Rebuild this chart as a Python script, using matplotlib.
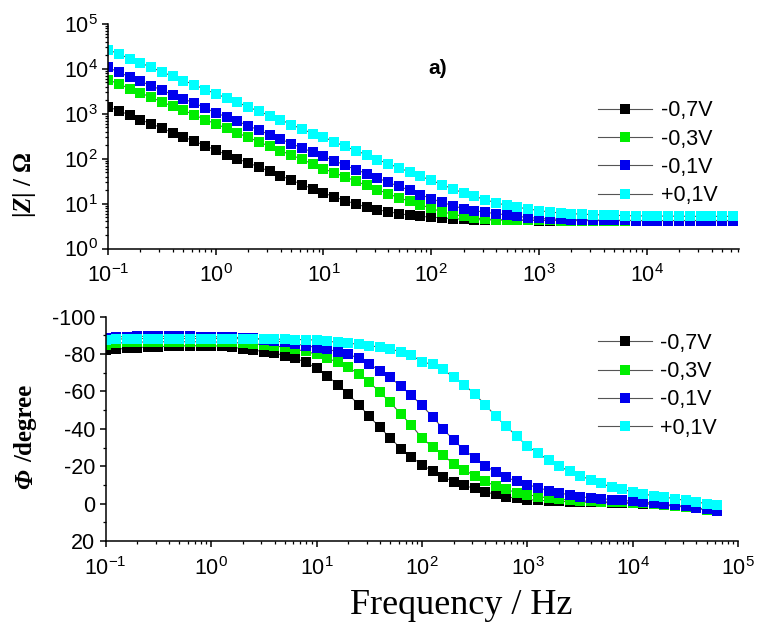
import matplotlib
matplotlib.use('Agg')
import matplotlib.pyplot as plt
from matplotlib.ticker import LogLocator, LogFormatterMathtext, MultipleLocator, NullFormatter

plt.rcParams['font.family'] = 'Liberation Sans'
plt.rcParams['mathtext.fontset'] = 'custom'
plt.rcParams['mathtext.rm'] = 'Liberation Sans'
plt.rcParams['mathtext.it'] = 'Liberation Serif:italic:bold'
plt.rcParams['axes.unicode_minus'] = False

# frequencies, 10 points per decade
freq = [0.1, 0.1259, 0.1585, 0.1995, 0.2512, 0.3162, 0.3981, 0.5012, 0.631, 0.7943,
        1.0, 1.259, 1.585, 1.995, 2.512, 3.162, 3.981, 5.012, 6.31, 7.943,
        10, 12.59, 15.85, 19.95, 25.12, 31.62, 39.81, 50.12, 63.1, 79.43,
        100, 125.9, 158.5, 199.5, 251.2, 316.2, 398.1, 501.2, 631, 794.3,
        1000, 1259, 1585, 1995, 2512, 3162, 3981, 5012, 6310, 7943,
        10000, 12590, 15850, 19950, 25120, 31620, 39810, 50120, 63100]

labels = ['-0,7V', '-0,3V', '-0,1V', '+0,1V']
colors = ['#000000', '#00ee00', '#0000ee', '#00ffff']

# |Z| / Ohm
z_m07 = [1420, 1180, 930, 745, 595, 485, 378, 305, 245, 196,
         155, 123, 100, 81, 65.5, 52, 42, 33.5, 26.5, 21.5,
         17.3, 14.1, 11.7, 9.8, 8.4, 7.35, 6.6, 6.0, 5.5, 5.2,
         5.0, 4.8, 4.6, 4.5, 4.4, 4.35, 4.3, 4.3, 4.25, 4.25,
         4.2, 4.2, 4.2, 4.2, 4.2, 4.2, 4.2, 4.2, 4.2, 4.2,
         4.2, 4.2, 4.2, 4.2, 4.2, 4.2, 4.2, 4.2, 4.2]
z_m03 = [5780, 4620, 3640, 2920, 2330, 1840, 1470, 1200, 945, 745,
         595, 476, 375, 300, 236, 189, 151, 121, 96, 76.5,
         60.2, 48.2, 40, 31.4, 25.6, 20.5, 16.7, 13.4, 11.3, 9.5,
         7.8, 6.6, 5.8, 5.2, 4.8, 4.55, 4.4, 4.35, 4.3, 4.3,
         4.25, 4.25, 4.2, 4.2, 4.2, 4.2, 4.2, 4.2, 4.2, 4.2,
         4.2, 4.2, 4.2, 4.2, 4.2, 4.2, 4.2, 4.2, 4.2]
z_m01 = [10870, 8410, 6620, 5300, 4250, 3340, 2680, 2140, 1750, 1350,
         1050, 850, 682, 546, 430, 344, 275, 217, 174, 139,
         113, 90.7, 71.4, 57.2, 46.6, 37.3, 29.9, 24.3, 19.8, 15.9,
         12.9, 10.7, 9.0, 7.7, 7.0, 6.4, 6.0, 5.6, 5.2, 4.9,
         4.7, 4.55, 4.45, 4.4, 4.35, 4.3, 4.3, 4.25, 4.25, 4.2,
         4.2, 4.2, 4.2, 4.2, 4.2, 4.2, 4.2, 4.2, 4.2]
z_p01 = [26900, 21500, 16900, 13600, 10870, 8550, 6850, 5480, 4470, 3460,
         2820, 2220, 1810, 1420, 1140, 912, 743, 575, 460, 362,
         305, 236, 189, 151, 123, 95.5, 77.8, 62.2, 50.7, 40.6,
         33.1, 26.5, 21.2, 17.3, 14.6, 12.3, 10.4, 9.2, 8.3, 7.6,
         7.0, 6.5, 6.2, 6.0, 5.8, 5.7, 5.6, 5.5, 5.4, 5.35,
         5.3, 5.3, 5.25, 5.25, 5.2, 5.2, 5.2, 5.2, 5.2]

# phase / degree
ph_m07 = [-82.2, -82.6, -83.1, -83.5, -83.8, -84.0, -84.2, -84.4, -84.4, -84.5,
          -84.5, -84.2, -83.7, -82.9, -82.2, -81.3, -80.5, -79.2, -77.8, -75.5,
          -72.5, -68.5, -63.6, -58.6, -52.9, -46.7, -40.8, -35.1, -29.4, -24.8,
          -20.9, -17.3, -14.3, -11.7, -9.7, -8.1, -6.3, -4.9, -3.7, -2.8,
          -2.2, -1.8, -1.5, -1.2, -1.0, -0.8, -0.7, -0.6, -0.5, -0.3,
          -0.1, 0.1, 0.4, 0.8, 1.3, 1.8, 2.5, 3.2, 4.0]
ph_m03 = [-85.0, -85.8, -86.2, -86.4, -86.5, -86.6, -86.6, -86.6, -86.6, -86.6,
          -86.5, -86.4, -86.2, -85.9, -85.5, -85.0, -84.4, -83.6, -82.6, -81.4,
          -79.9, -77.8, -75.7, -73.0, -69.3, -65.0, -59.7, -54.1, -47.9, -41.9,
          -35.1, -30.3, -25.9, -21.3, -18.2, -14.7, -12.0, -9.3, -7.6, -5.8,
          -4.8, -3.8, -3.0, -2.4, -1.9, -1.5, -1.2, -1.0, -0.8, -0.6,
          -0.4, -0.1, 0.3, 0.8, 1.3, 1.8, 2.5, 3.2, 4.0]
ph_m01 = [-88.5, -89.2, -89.4, -89.5, -89.5, -89.5, -89.5, -89.5, -89.5, -89.4,
          -89.3, -89.2, -89.0, -88.8, -88.4, -87.8, -87.1, -86.3, -85.4, -84.5,
          -83.5, -82.6, -81.3, -79.9, -77.8, -74.6, -71.2, -67.5, -62.7, -57.9,
          -52.5, -46.5, -40.0, -34.0, -28.7, -24.5, -20.3, -16.8, -14.0, -12.0,
          -10.2, -8.5, -7.0, -5.8, -4.6, -3.7, -3.1, -2.6, -2.2, -1.7,
          -1.3, -0.9, -0.2, 0.4, 1.0, 1.5, 2.3, 3.1, 4.2]
ph_p01 = [-87.5, -88.0, -88.2, -88.3, -88.3, -88.3, -88.3, -88.3, -88.3, -88.3,
          -88.3, -88.3, -88.3, -88.2, -88.2, -88.1, -88.0, -87.9, -87.8, -87.7,
          -87.5, -86.9, -86.3, -85.8, -85.3, -84.5, -83.7, -82.6, -81.3, -79.6,
          -75.7, -74.6, -71.9, -67.5, -63.6, -58.6, -52.9, -46.7, -41.3, -36.0,
          -30.7, -27.1, -23.2, -20.0, -17.3, -14.7, -12.9, -10.8, -8.8, -7.6,
          -6.3, -5.3, -4.0, -3.5, -2.6, -1.7, -1.0, 0.1, 1.0]

z_data = [z_m07, z_m03, z_m01, z_p01]
ph_data = [ph_m07, ph_m03, ph_m01, ph_p01]

fig = plt.figure(figsize=(7.57, 6.29), dpi=100)
ax1 = fig.add_axes([0.1427, 0.6049, 0.8336, 0.357])
ax2 = fig.add_axes([0.1396, 0.1399, 0.8357, 0.3566])

for ax, data in [(ax1, z_data), (ax2, ph_data)]:
    for y, c, lab in zip(data, colors, labels):
        ax.plot(freq, y, '-', color='#555555', lw=0.8, marker='s', ms=7,
                mfc=c, mec=c, mew=0, label=lab)

ax1.set_xscale('log')
ax1.set_yscale('log')
ax1.set_xlim(0.1, 7.2e4)
ax1.set_ylim(1, 1e5)
ax1.yaxis.set_major_locator(LogLocator(base=10, numticks=10))
ax1.yaxis.set_minor_locator(LogLocator(base=10, subs=range(2, 10), numticks=20))
ax1.yaxis.set_minor_formatter(NullFormatter())

ax2.set_xscale('log')
ax2.set_xlim(0.1, 1e5)
ax2.set_ylim(20, -100)
ax2.yaxis.set_major_locator(MultipleLocator(20))
ax2.yaxis.set_minor_locator(MultipleLocator(10))

for ax in (ax1, ax2):
    ax.xaxis.set_major_locator(LogLocator(base=10, numticks=10))
    ax.xaxis.set_minor_locator(LogLocator(base=10, subs=range(2, 10), numticks=20))
    ax.xaxis.set_major_formatter(LogFormatterMathtext())
    ax.xaxis.set_minor_formatter(NullFormatter())
    ax.spines['top'].set_visible(False)
    ax.spines['right'].set_visible(False)
    for s in ('left', 'bottom'):
        ax.spines[s].set_linewidth(1.1)
    ax.tick_params(which='major', direction='out', length=4.5, width=1.1,
                   labelsize=15.5)
    ax.tick_params(axis='y', which='major', pad=3)
    ax.tick_params(axis='x', which='major', pad=7)
    ax.tick_params(which='minor', direction='out', length=2.5, width=0.9)
    ax.set_facecolor('none')

ax1.legend(loc='upper left', bbox_to_anchor=(0.777, 0.66), frameon=False,
           fontsize=15.5, handlelength=2.5, handletextpad=0.4, labelspacing=0.34,
           borderpad=0, borderaxespad=0)
ax2.legend(loc='upper left', bbox_to_anchor=(0.778, 0.928), frameon=False,
           fontsize=15.5, handlelength=2.5, handletextpad=0.4, labelspacing=0.34,
           borderpad=0, borderaxespad=0)

fig.text(438 / 757, 1 - 68 / 629, 'a)', fontsize=15, fontweight='bold',
         ha='center', va='center')
fig.text(25 / 757, 1 - 185 / 629, r'|$\mathit{Z}$| / Ω', rotation=90,
         fontsize=18, fontweight='bold', family='Liberation Serif',
         ha='center', va='center')
fig.text(26 / 757, 1 - 479 / 629, 'Φ', rotation=90, fontsize=18,
         fontweight='bold', fontstyle='italic', family='Liberation Serif',
         ha='center', va='center')
fig.text(26 / 757, 1 - 423 / 629, '/degree', rotation=90, fontsize=18,
         fontweight='bold', family='Liberation Serif',
         ha='center', va='center')
fig.text(461 / 757, 1 - 606 / 629, 'Frequency / Hz', fontsize=26,
         family='Liberation Serif', ha='center', va='center')

fig.savefig('out.png', dpi=100)
